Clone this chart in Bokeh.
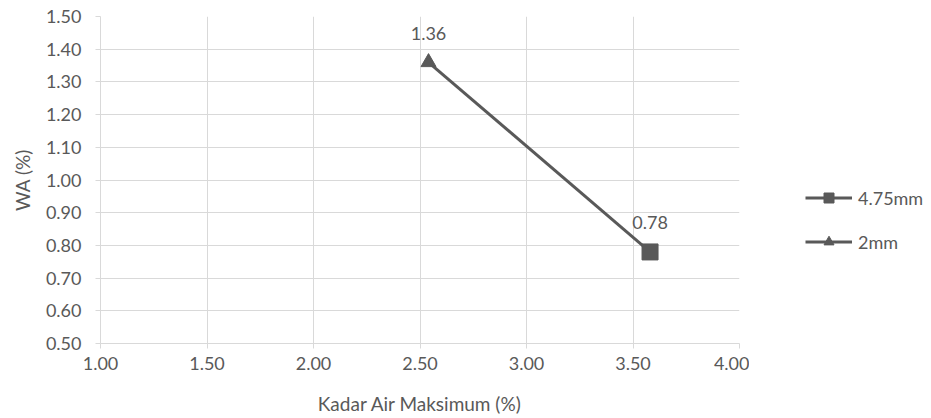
from bokeh.plotting import figure
from bokeh.layouts import row
from bokeh.models import FixedTicker, NumeralTickFormatter, Legend, LegendItem, ColumnDataSource
from bokeh.core.properties import value
from bokeh.embed import file_html
from bokeh.resources import INLINE

# data
series_names = ["4.75mm", "2mm"]
series_markers = ["square", "triangle"]
kadar_air = [3.58, 2.54]     # x for 4.75mm, 2mm
wa = [0.78, 1.36]            # y for 4.75mm, 2mm
labels = ["0.78", "1.36"]
x_ticks = [1.00, 1.50, 2.00, 2.50, 3.00, 3.50, 4.00]
y_ticks = [0.50, 0.60, 0.70, 0.80, 0.90, 1.00, 1.10, 1.20, 1.30, 1.40, 1.50]

FONT = "Lato"
TXT = "#595959"
GRID = "#d9d9d9"
LINE = "#595959"

p = figure(width=749, height=418, x_range=(1.0, 4.0), y_range=(0.5, 1.5),
           output_backend="svg", toolbar_location=None,
           min_border_left=100, min_border_right=10, min_border_top=16, min_border_bottom=75)
p.outline_line_color = None
p.background_fill_color = "white"
p.border_fill_color = "white"

for ax in (p.xaxis[0], p.yaxis[0]):
    ax.axis_line_color = GRID
    ax.major_tick_line_color = GRID
    ax.major_tick_out = 5
    ax.major_tick_in = 0
    ax.minor_tick_line_color = None
    ax.major_label_text_font = FONT
    ax.major_label_text_font_size = "18px"
    ax.major_label_text_color = TXT
    ax.axis_label_text_font = FONT
    ax.axis_label_text_font_size = "19px"
    ax.axis_label_text_color = TXT
    ax.axis_label_text_font_style = "normal"
    ax.formatter = NumeralTickFormatter(format="0.00")

p.xaxis[0].ticker = FixedTicker(ticks=x_ticks)
p.yaxis[0].ticker = FixedTicker(ticks=y_ticks)
p.xaxis[0].axis_label = "Kadar Air Maksimum (%)"
p.yaxis[0].axis_label = "WA (%)"
p.xaxis[0].major_label_standoff = 8
p.yaxis[0].major_label_standoff = 14
p.xaxis[0].axis_label_standoff = 19
p.yaxis[0].axis_label_standoff = 9

p.xgrid.ticker = FixedTicker(ticks=x_ticks)
p.ygrid.ticker = FixedTicker(ticks=y_ticks)
p.xgrid.grid_line_color = GRID
p.ygrid.grid_line_color = GRID

# connecting line
p.line(x=kadar_air, y=wa, line_color=LINE, line_width=3)

src_sq = ColumnDataSource(dict(x=[kadar_air[0]], y=[wa[0]], t=[labels[0]]))
src_tr = ColumnDataSource(dict(x=[kadar_air[1]], y=[wa[1]], t=[labels[1]]))
p.scatter("x", "y", source=src_sq, marker=series_markers[0], size=16, fill_color=LINE, line_color=LINE)
p.scatter("x", "y", source=src_tr, marker=series_markers[1], size=15, fill_color=LINE, line_color=LINE)

for s in (src_sq, src_tr):
    p.text("x", "y", text="t", source=s, text_font=value(FONT), text_font_size="18px",
           text_color=TXT, text_align="center", text_baseline="alphabetic", y_offset=-29)

# legend panel (its frame is aligned with the main frame by the row layout)
q = figure(width=182, height=418, output_backend="svg", toolbar_location=None,
           x_axis_type=None, y_axis_type=None, min_border=0,
           x_range=(0, 1), y_range=(0, 1))
q.outline_line_color = None
q.grid.visible = False
q.border_fill_color = "white"
q.background_fill_color = "white"

items = []
for name, mk in zip(series_names, series_markers):
    # proxy glyphs placed outside the visible range, used only for the legend
    ln = q.line(x=[5, 6], y=[5, 6], line_color=LINE, line_width=3)
    sc = q.scatter(x=[5], y=[5], marker=mk, size=10, fill_color=LINE, line_color=LINE)
    items.append(LegendItem(label=name, renderers=[ln, sc]))

legend = Legend(items=items, orientation="vertical")
legend.label_text_font = FONT
legend.label_text_font_size = "18px"
legend.label_text_color = TXT
legend.glyph_width = 47
legend.glyph_height = 25
legend.label_height = 20
legend.label_standoff = 6
legend.spacing = 19
legend.padding = 0
legend.margin = 0
legend.border_line_color = None
legend.background_fill_alpha = 0
legend.location = (56, 89)
q.add_layout(legend, "center")

layout = row(p, q)
open("out.html", "w").write(file_html(layout, INLINE))
